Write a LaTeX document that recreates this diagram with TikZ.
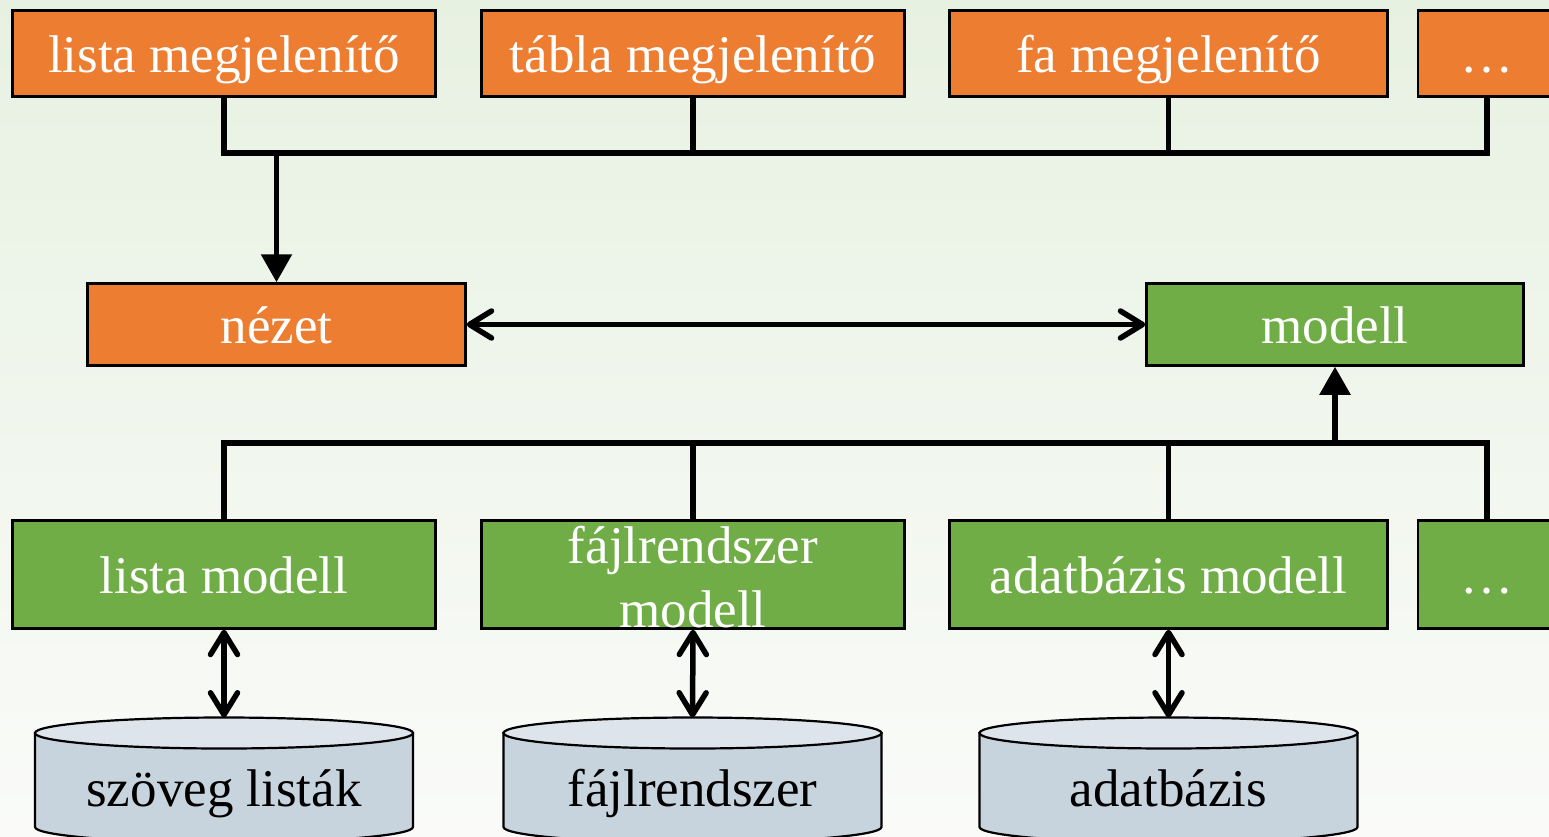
\documentclass[tikz,border=0pt]{standalone}
\usepackage{fontspec}
\setmainfont{Liberation Serif}
\usetikzlibrary{arrows.meta}
\definecolor{boxorange}{HTML}{ED7D31}
\definecolor{boxgreen}{HTML}{70AD47}
\definecolor{dbtop}{HTML}{DDE4EB}
\definecolor{dbbody}{HTML}{C8D4DD}
\definecolor{bgtop}{HTML}{E7F1E1}
\definecolor{bgbottom}{HTML}{FAFBF9}

\begin{document}
\begin{tikzpicture}[x=1pt,y=-1pt,
  every node/.style={font=\fontsize{53}{64}\selectfont, inner sep=0pt},
  box/.style={draw=black, line width=2.5pt, text=white, minimum height=#1},
  oneline/.style={text height=38pt, text depth=0pt},
  obox/.style={box=86pt, fill=boxorange, oneline},
  mbox/.style={box=82pt, oneline},
  gbox/.style={box=108pt, fill=boxgreen},
  conn/.style={draw=black, line width=5.5pt},
  fillhead/.style={-{Triangle[width=30pt,length=28pt]}},
  both/.style={{Straight Barb[width=27pt,length=22pt,line width=5.5pt,round]}-{Straight Barb[width=27pt,length=22pt,line width=5.5pt,round]}},
  dbline/.style={draw=black, line width=2.2pt}
]
% page and background
\useasboundingbox (0,0) rectangle (1549,836);
\clip (0,0) rectangle (1549,836);
\shade[top color=bgtop, bottom color=bgbottom] (0,0) rectangle (1549,836);

% view components (top row)
\node[obox, minimum width=423pt] (lm) at (224,53.3) {lista megjelenítő};
\node[obox, minimum width=423pt] (tm) at (693,53.3) {tábla megjelenítő};
\node[obox, minimum width=438pt] (fm) at (1168.5,53.3) {fa megjelenítő};
\node[obox, minimum width=138pt] (om) at (1487,53.3) {…};

% view and model
\node[mbox, fill=boxorange, minimum width=378pt] (view) at (276.5,324.5) {nézet};
\node[mbox, fill=boxgreen, minimum width=377pt] (model) at (1335,324.5) {modell};

% concrete models (bottom row)
\node[gbox, oneline, minimum width=423pt] (lmod) at (224,574.5) {lista modell};
\node[gbox, align=center, minimum width=423pt] (fmod) at (693,574.5) {\rule{0pt}{41.5pt}fájlrendszer\\modell};
\node[gbox, oneline, minimum width=438pt] (amod) at (1168.5,574.5) {adatbázis modell};
\node[gbox, oneline, minimum width=138pt] (omod) at (1487,574.5) {…};

% bus lines
\coordinate (tb) at (0,153);
\coordinate (bb) at (0,443);

% top tree into the view
\draw[conn] (lm.south) -- (lm.south |- tb) -- (om.south |- tb) -- (om.south);
\draw[conn] (tm.south) -- (tm.south |- tb);
\draw[conn] (fm.south) -- (fm.south |- tb);
\draw[conn, fillhead] (view.north |- tb) -- (view.north);

% bottom tree into the model
\draw[conn] (lmod.north) -- (lmod.north |- bb) -- (omod.north |- bb) -- (omod.north);
\draw[conn] (fmod.north) -- (fmod.north |- bb);
\draw[conn] (amod.north) -- (amod.north |- bb);
\draw[conn, fillhead] (model.south |- bb) -- (model.south);

% view <-> model
\draw[conn, both] (view.east) -- (model.west);

% data stores
\foreach \i/\cx/\txt in {1/224/szöveg listák, 2/692.5/fájlrendszer, 3/1168.5/adatbázis}{
  \filldraw[dbline, fill=dbbody] (\cx-189,733) -- (\cx-189,827)
    arc[start angle=180, end angle=0, x radius=189, y radius=15.5]
    -- (\cx+189,733) -- cycle;
  \filldraw[dbline, fill=dbtop] (\cx,733) ellipse[x radius=189, y radius=15.5];
  \coordinate (db\i) at (\cx,717.5);
  \node[anchor=base, text=black] (dbt\i) at (\cx,806) {\txt};
}

% models <-> data stores
\draw[conn, both] (lmod.south) -- (db1);
\draw[conn, both] (fmod.south) -- (db2);
\draw[conn, both] (amod.south) -- (db3);
\end{tikzpicture}
\end{document}
